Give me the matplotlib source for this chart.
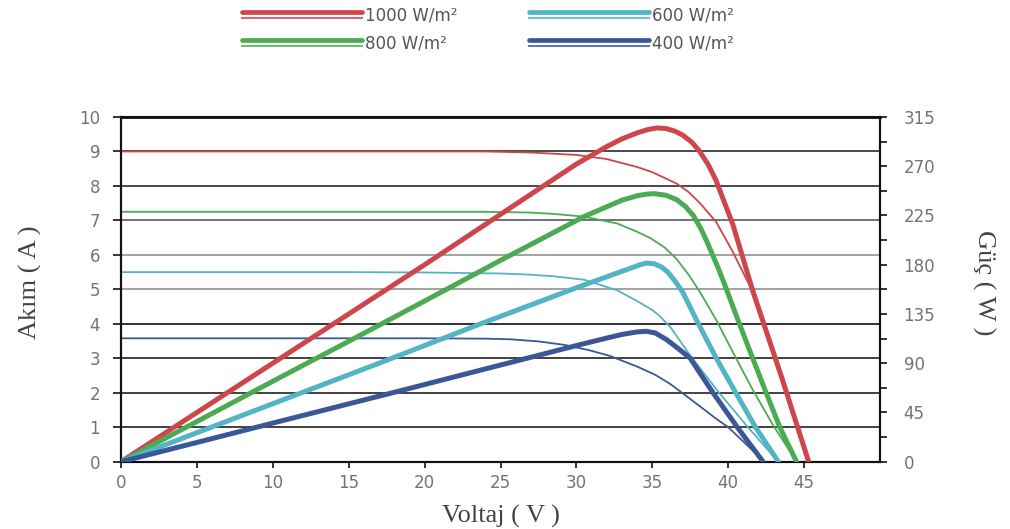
import matplotlib
matplotlib.use('Agg')
import matplotlib.pyplot as plt
from matplotlib.lines import Line2D
from matplotlib.legend_handler import HandlerBase
from matplotlib.ticker import MultipleLocator

# Akım (I-V) eğrileri, ince çizgiler
v_i1000 = [0, 5, 10, 15, 20, 24, 27, 30, 32, 34, 35, 36.6, 37.4, 38.1, 39.2, 40.3, 41.4, 43.3, 45.3]
i_1000 = [9.0, 9.0, 9.0, 9.0, 9.0, 9.0, 8.97, 8.9, 8.78, 8.55, 8.4, 8.07, 7.82, 7.52, 6.96, 6.09, 5.12, 2.65, 0]

v_i800 = [0, 5, 10, 15, 20, 24, 26.8, 28.5, 30.5, 32.7, 34, 34.9, 35.8, 36.6, 37.4, 38.1, 39.2, 40.4, 41.6, 42.9, 44.5]
i_800 = [7.25, 7.25, 7.25, 7.25, 7.25, 7.25, 7.23, 7.19, 7.11, 6.91, 6.67, 6.48, 6.22, 5.88, 5.42, 4.95, 4.12, 3.1, 2.1, 1.1, 0]

v_i600 = [0, 5, 10, 15, 20, 25, 26.8, 28.5, 30.5, 32.7, 34, 35, 35.5, 36.2, 36.8, 37.5, 39.4, 41.3, 43.3]
i_600 = [5.5, 5.5, 5.5, 5.5, 5.49, 5.46, 5.43, 5.38, 5.28, 4.97, 4.66, 4.4, 4.22, 3.9, 3.52, 3.08, 2.0, 1.0, 0]

v_i400 = [0, 5, 10, 15, 20, 24, 25.7, 27.5, 29.2, 30.8, 32.2, 34, 35.2, 36.2, 37.2, 39.2, 40.0, 41.8, 42.3]
i_400 = [3.58, 3.58, 3.58, 3.58, 3.58, 3.57, 3.55, 3.49, 3.39, 3.24, 3.07, 2.76, 2.52, 2.25, 1.92, 1.25, 1.0, 0.25, 0]

# Güç (P-V) eğrileri, kalın çizgiler
v_p1000 = [0, 5, 10, 15, 20, 25, 30, 31, 32, 33, 34, 34.7, 35.3, 35.9, 36.5, 37, 37.6, 38.1, 38.7, 39.2, 40.3, 41.6, 43.5, 45.3]
p_1000 = [0, 45, 90, 135, 180, 226, 272, 280, 288, 295, 300.5, 303.5, 305, 304.5, 302, 298.5, 292, 284, 271, 257, 217, 157, 78, 0]

v_p800 = [0, 5, 10, 15, 20.7, 25, 30.5, 32, 33, 34, 34.6, 35.1, 35.9, 36.6, 37.2, 37.7, 38.2, 38.6, 39.4, 39.9, 40.6, 41.6, 42.5, 43.4, 44.5]
p_800 = [0, 36.7, 73.5, 110, 152, 184, 224, 233, 239, 243, 244.5, 245, 243.5, 239.5, 233, 225, 213, 201, 175, 157, 131, 95, 63, 31.5, 0]

v_p600 = [0, 5, 10, 17, 23.5, 28.1, 30.1, 32, 33.5, 34.2, 34.6, 35.1, 35.6, 36, 36.5, 37, 38.0, 39.2, 40.5, 41.8, 43.3]
p_600 = [0, 26.5, 53, 90, 125, 149, 159.5, 169, 176.5, 180, 181.5, 181, 178, 173.5, 165, 155, 127, 95, 63, 31.5, 0]

v_p400 = [0, 5, 10, 17.6, 23.5, 30.1, 32, 33, 34, 34.6, 35.2, 35.95, 36.7, 37.5, 39.0, 40.6, 42.3]
p_400 = [0, 17.6, 35.3, 62, 83, 106.5, 113, 116.3, 118.6, 119.2, 117.6, 111.5, 103.5, 94.5, 63, 31.5, 0]

labels = ['1000 W/m²', '800 W/m²', '600 W/m²', '400 W/m²']
colors = ['#cd464b', '#4bab52', '#52b4c4', '#3a5798']
grid_colors = ['#333333', '#333333', '#333333', '#222222', '#9a9a9a', '#9a9a9a', '#666666', '#3a3a3a', '#3a3a3a']

currents = [(v_i1000, i_1000), (v_i800, i_800), (v_i600, i_600), (v_i400, i_400)]
powers = [(v_p1000, p_1000), (v_p800, p_800), (v_p600, p_600), (v_p400, p_400)]


class DoubleLine(HandlerBase):
    # kalın çizgi üstte, ince çizgi altta
    def create_artists(self, legend, orig_handle, xdescent, ydescent,
                       width, height, fontsize, trans):
        c = orig_handle.get_color()
        y0 = height / 2 - ydescent
        thick = Line2D([-xdescent, width - xdescent], [y0 + 0.22 * height] * 2,
                       color=c, lw=3.4, solid_capstyle='round')
        thin = Line2D([-xdescent, width - xdescent], [y0 - 0.28 * height] * 2,
                      color=c, lw=1.5, alpha=0.8)
        thick.set_transform(trans)
        thin.set_transform(trans)
        return [thick, thin]


fig = plt.figure(figsize=(10.1, 5.29), dpi=100)
ax = fig.add_axes([0.1198, 0.1272, 0.7515, 0.6516])
ax2 = ax.twinx()

for y, gc in zip(range(1, 10), grid_colors):
    ax.axhline(y, color=gc, lw=1.3, zorder=1)

handles = []
for (v, i), (vp, p), c in zip(currents, powers, colors):
    ax.plot(v, i, color=c, lw=1.3, zorder=3, solid_joinstyle='round')
    ax2.plot(vp, p, color=c, lw=3.6, zorder=3, solid_capstyle='round', solid_joinstyle='round')
    handles.append(Line2D([], [], color=c))

ax.set_xlim(0, 50)
ax.set_ylim(0, 10)
ax2.set_ylim(0, 315)
ax.set_xticks(range(0, 50, 5))
ax.set_yticks(range(0, 11))
ax2.yaxis.set_major_locator(MultipleLocator(45))
ax2.yaxis.set_minor_locator(MultipleLocator(22.5))

for lab in ax.get_xticklabels() + ax.get_yticklabels() + ax2.get_yticklabels():
    lab.set_fontfamily('DejaVu Sans')
    lab.set_fontsize(12)
ax.tick_params(axis='y', direction='out', length=6, width=1.3, pad=9, colors='#222222', labelcolor='#707478')
ax.tick_params(axis='x', direction='out', length=4, width=1.3, pad=5, colors='#222222', labelcolor='#707478')
ax2.tick_params(axis='y', which='both', direction='out', length=5, width=1.3, pad=12,
                colors='#222222', labelcolor='#707478')

for a in (ax, ax2):
    for side in ['left', 'right', 'top', 'bottom']:
        a.spines[side].set_color('#111111')
        a.spines[side].set_linewidth(1.5)
ax.spines['top'].set_linewidth(2)

serif = dict(family='Liberation Serif', color='#444444')
ax.set_xlabel('Voltaj ( V )', fontsize=19, **serif)
ax.xaxis.set_label_coords(0.5, -0.125)
ax.set_ylabel('Akım ( A )', fontsize=19, **serif)
ax.yaxis.set_label_coords(-0.104, 0.52)
ax2.set_ylabel('Güç ( W )', fontsize=19, rotation=270, **serif)
ax2.yaxis.set_label_coords(1.152, 0.52)

fig.legend(handles, labels, handler_map={Line2D: DoubleLine()}, ncol=2,
           loc='upper left', bbox_to_anchor=(0.24, 0.987), frameon=False,
           prop={'family': 'DejaVu Sans', 'size': 12}, labelcolor='#555555',
           handlelength=7.2, handletextpad=0.15, columnspacing=4.3,
           labelspacing=0.6, borderpad=0, borderaxespad=0)

fig.savefig('out.png', dpi=100)
